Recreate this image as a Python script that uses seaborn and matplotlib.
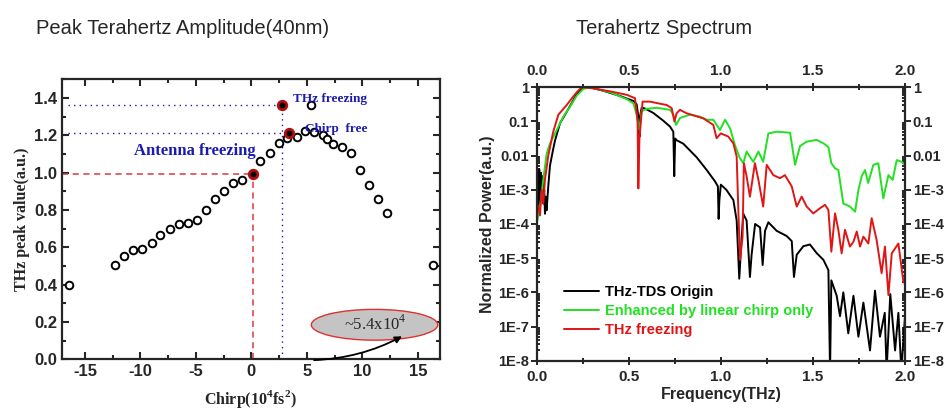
import matplotlib
matplotlib.use("Agg")
import numpy as np
import pandas as pd
import matplotlib.pyplot as plt
import seaborn as sns
from matplotlib.patches import Ellipse
from matplotlib.ticker import MultipleLocator, FixedLocator, LogLocator, NullFormatter

# ---- left panel: peak THz amplitude vs chirp (10^4 fs^2) ----
chirp_x = [-16.45, -12.3, -11.45, -10.65, -9.85, -9.0, -8.2, -7.35, -6.55, -5.75,
           -4.95, -4.1, -3.3, -2.45, -1.65, -0.85, 0.8, 1.65, 2.45, 3.25,
           4.1, 4.85, 5.35, 5.65, 6.45, 6.85, 7.35, 8.2, 8.95, 9.8,
           10.6, 11.45, 12.25, 16.35]
peak_y = [0.40, 0.505, 0.555, 0.585, 0.59, 0.625, 0.665, 0.70, 0.725, 0.73,
          0.745, 0.80, 0.86, 0.90, 0.945, 0.96, 1.06, 1.105, 1.16, 1.185,
          1.19, 1.225, 1.365, 1.22, 1.20, 1.18, 1.155, 1.135, 1.105, 1.015,
          0.935, 0.86, 0.785, 0.505]
# highlighted points: antenna freezing, THz freezing, chirp free
mark_x = [0.1, 2.78, 3.4]
mark_y = [0.995, 1.365, 1.21]

# ---- right panel: normalized power spectra, log10 values ----
origin_f = [0.0, 0.005, 0.009, 0.014, 0.018, 0.023, 0.027, 0.032, 0.036, 0.041,
            0.045, 0.05, 0.054, 0.063, 0.072, 0.09, 0.1, 0.127, 0.163, 0.199,
            0.217, 0.235, 0.253, 0.29, 0.36, 0.45, 0.525, 0.543, 0.553, 0.558,
            0.563, 0.57, 0.588, 0.633, 0.688, 0.724, 0.742, 0.747, 0.752, 0.76,
            0.796, 0.869, 0.923, 0.968, 0.984, 0.988, 0.992, 1.0, 1.03, 1.068,
            1.086, 1.1, 1.113, 1.122, 1.14, 1.158, 1.167, 1.186, 1.213, 1.227,
            1.24, 1.258, 1.303, 1.357, 1.385, 1.397, 1.412, 1.448, 1.484, 1.52,
            1.557, 1.584, 1.593, 1.6, 1.629, 1.647, 1.665, 1.692, 1.72, 1.747,
            1.774, 1.81, 1.837, 1.864, 1.89, 1.9, 1.92, 1.946, 1.964, 1.98,
            2.0]
origin_logp = [-3.3, -2.4, -3.5, -2.4, -3.4, -2.5, -3.3, -2.6, -3.4, -3.0,
               -3.7, -3.2, -3.6, -2.9, -2.3, -1.8, -1.55, -1.05, -0.72, -0.38,
               -0.2, -0.09, -0.02, 0.0, -0.1, -0.25, -0.4, -0.5, -0.9, -1.45,
               -0.8, -0.6, -0.62, -0.75, -0.98, -1.15, -1.3, -2.6, -1.5, -1.55,
               -1.65, -2.05, -2.42, -2.75, -2.9, -3.85, -3.3, -2.85, -3.0, -3.3,
               -3.9, -5.6, -4.4, -3.7, -3.9, -5.55, -4.9, -4.0, -4.1, -5.2,
               -4.2, -3.95, -4.2, -4.35, -4.5, -5.55, -4.9, -4.65, -4.6, -4.85,
               -5.05, -5.35, -8.3, -5.65, -6.1, -6.7, -6.0, -7.2, -6.1, -7.3,
               -6.3, -7.7, -5.95, -7.3, -6.6, -8.3, -6.05, -7.7, -6.6, -8.3,
               -6.7]

chirp_f = [0.0, 0.018, 0.036, 0.054, 0.072, 0.109, 0.145, 0.181, 0.217, 0.253,
           0.29, 0.4, 0.49, 0.525, 0.543, 0.557, 0.57, 0.597, 0.652, 0.724,
           0.742, 0.757, 0.778, 0.833, 0.887, 0.923, 0.959, 0.995, 1.023, 1.05,
           1.077, 1.104, 1.122, 1.14, 1.176, 1.204, 1.23, 1.258, 1.303, 1.376,
           1.403, 1.43, 1.466, 1.52, 1.557, 1.584, 1.6, 1.62, 1.638, 1.665,
           1.701, 1.729, 1.747, 1.765, 1.783, 1.8, 1.828, 1.855, 1.882, 1.91,
           1.933, 1.955, 1.982, 2.0]
chirp_logp = [-4.0, -3.5, -2.7, -1.95, -1.65, -1.25, -0.86, -0.57, -0.25, -0.05,
              0.0, -0.15, -0.35, -0.47, -0.8, -1.25, -0.7, -0.63, -0.6, -0.66,
              -0.8, -1.1, -0.9, -0.8, -0.86, -0.95, -0.95, -1.25, -0.95, -1.2,
              -1.7, -2.08, -2.22, -1.88, -2.18, -1.88, -2.18, -1.35, -1.3, -1.33,
              -2.27, -1.72, -1.59, -1.54, -1.64, -1.75, -2.22, -2.37, -2.42, -3.4,
              -3.49, -3.64, -3.0, -2.6, -2.42, -2.8, -2.27, -2.22, -3.25, -2.57,
              -2.71, -2.13, -2.18, -2.27]

freeze_f = [0.0, 0.009, 0.018, 0.027, 0.036, 0.045, 0.063, 0.09, 0.118, 0.163,
            0.19, 0.217, 0.244, 0.29, 0.4, 0.489, 0.534, 0.548, 0.552, 0.558,
            0.575, 0.615, 0.706, 0.733, 0.748, 0.76, 0.778, 0.814, 0.905, 0.959,
            0.977, 1.0, 1.04, 1.068, 1.086, 1.095, 1.104, 1.118, 1.125, 1.14,
            1.158, 1.185, 1.204, 1.23, 1.249, 1.285, 1.321, 1.348, 1.385, 1.412,
            1.439, 1.466, 1.502, 1.538, 1.566, 1.584, 1.6, 1.62, 1.638, 1.656,
            1.674, 1.701, 1.72, 1.738, 1.756, 1.774, 1.801, 1.819, 1.846, 1.873,
            1.891, 1.91, 1.928, 1.964, 1.991, 2.0]
freeze_logp = [-3.4, -3.5, -3.75, -3.0, -3.4, -2.7, -2.0, -1.3, -0.8, -0.52,
               -0.33, -0.15, 0.0, -0.02, -0.12, -0.22, -0.32, -1.0, -2.96, -1.5,
               -0.42, -0.42, -0.52, -0.61, -1.0, -0.76, -0.66, -0.76, -0.91, -1.1,
               -1.49, -1.35, -1.44, -1.64, -2.03, -3.59, -5.05, -4.37, -2.22, -2.61,
               -3.2, -2.22, -2.71, -3.49, -2.27, -2.57, -2.66, -2.57, -2.9, -3.49,
               -3.2, -3.49, -3.69, -3.54, -3.44, -3.59, -4.81, -3.69, -4.17, -4.86,
               -4.17, -4.66, -4.52, -4.22, -4.66, -4.37, -4.57, -3.83, -4.47, -5.44,
               -4.66, -6.08, -4.86, -4.57, -5.69, -5.74]

series_names = ["THz-TDS Origin", "Enhanced by linear chirp only", "THz freezing"]
series_colors = ["#000000", "#22e022", "#e01515"]
power_ticks = [1e-8, 1e-7, 1e-6, 1e-5, 1e-4, 1e-3, 1e-2, 1e-1, 1]
power_labels = ["1E-8", "1E-7", "1E-6", "1E-5", "1E-4", "1E-3", "0.01", "0.1", "1"]

sns.set_style("ticks")
plt.rcParams["font.family"] = ["Liberation Sans", "DejaVu Sans"]
plt.rcParams["axes.unicode_minus"] = False
plt.rcParams["mathtext.fontset"] = "custom"
plt.rcParams["mathtext.rm"] = "Liberation Serif"
plt.rcParams["mathtext.bf"] = "Liberation Serif:bold"

fig = plt.figure(figsize=(9.44, 4.09), dpi=100)
ax1 = fig.add_axes([0.0654, 0.1215, 0.4007, 0.6846])
ax2 = fig.add_axes([0.5685, 0.1181, 0.3902, 0.6685])

serif = "Liberation Serif"
blue = "#1a1ab0"

# ---------- left panel ----------
# guide lines through the highlighted points
ax1.plot([-17.1, mark_x[0]], [mark_y[0], mark_y[0]], ls=(0, (4, 3)), color="#d83a3a", lw=1.1)
ax1.plot([mark_x[0], mark_x[0]], [0, mark_y[0]], ls=(0, (4, 3)), color="#d83a3a", lw=1.1)
ax1.plot([-16.5, mark_x[1]], [mark_y[1], mark_y[1]], ls=(0, (1, 3)), color=blue, lw=1.0)
ax1.plot([-16.5, mark_x[2]], [mark_y[2], mark_y[2]], ls=(0, (1, 3)), color=blue, lw=1.0)
ax1.plot([mark_x[1], mark_x[1]], [0, mark_y[1]], ls=(0, (1, 3)), color=blue, lw=1.0)

sns.scatterplot(x=chirp_x, y=peak_y, ax=ax1, marker="o", s=30,
                facecolor="white", edgecolor="black", linewidth=1.4, zorder=3)
sns.scatterplot(x=mark_x, y=mark_y, ax=ax1, marker="o", s=38,
                facecolor="black", edgecolor="#b01010", linewidth=2.0, zorder=4)

ax1.set_xlim(-17.1, 17.0)
ax1.set_ylim(0, 1.5)
ax1.xaxis.set_major_locator(MultipleLocator(5))
ax1.xaxis.set_minor_locator(MultipleLocator(2.5))
ax1.yaxis.set_minor_locator(MultipleLocator(0.1))
ax1.set_yticks([0, 0.2, 0.4, 0.6, 0.8, 1.0, 1.2, 1.4])
ax1.tick_params(which="both", direction="in", top=True, right=True, width=1.5)
ax1.tick_params(which="major", length=5, labelsize=12)
ax1.tick_params(which="minor", length=3)
for lab in ax1.get_xticklabels() + ax1.get_yticklabels():
    lab.set_fontweight("bold")
for sp in ax1.spines.values():
    sp.set_linewidth(1.6)

ax1.set_ylabel("THz peak value(a.u.)", fontfamily=serif, fontweight="bold",
               fontsize=11.5, labelpad=3)
ax1.set_xlabel(r"Chirp(10$^{\mathbf{4}}$fs$^{\mathbf{2}}$)", fontfamily=serif,
               fontweight="bold", fontsize=11.5, labelpad=6)

ax1.text(3.75, 1.395, "THz freezing", color=blue, fontfamily=serif, fontweight="bold",
         fontsize=9.5, va="center")
ax1.text(4.85, 1.235, "Chirp  free", color=blue, fontfamily=serif, fontweight="bold",
         fontsize=9.5, va="center")
ax1.text(-10.6, 1.115, "Antenna freezing", color=blue, fontfamily=serif,
         fontweight="bold", fontsize=12, va="center")

ax1.add_patch(Ellipse((11.1, 0.185), 11.4, 0.165, facecolor="#c4c4c4",
                      edgecolor="#e03030", lw=1.0, zorder=2))
ax1.text(11.2, 0.19, r"~5.4x10$^{4}$", fontfamily=serif, fontsize=12,
         ha="center", va="center", zorder=3)
ax1.annotate("", xy=(13.8, 0.13), xytext=(5.4, -0.005),
             arrowprops=dict(arrowstyle="-|>", color="black", lw=1.3,
                             connectionstyle="arc3,rad=0.12", mutation_scale=10),
             annotation_clip=False, zorder=3)

# ---------- right panel ----------
for f, lp, name, col in zip([origin_f, chirp_f, freeze_f],
                            [origin_logp, chirp_logp, freeze_logp],
                            series_names, series_colors):
    df = pd.DataFrame({"freq": f, "power": 10.0 ** np.array(lp)})
    sns.lineplot(data=df, x="freq", y="power", ax=ax2, color=col, lw=1.4,
                 label=name, sort=False, estimator=None)

ax2.set_yscale("log")
ax2.set_xlim(0, 2.0)
ax2.set_ylim(1e-8, 1)
ax2.xaxis.set_major_locator(MultipleLocator(0.5))
ax2.xaxis.set_minor_locator(MultipleLocator(0.25))
ax2.xaxis.set_major_formatter(matplotlib.ticker.FormatStrFormatter("%.1f"))
ax2.yaxis.set_major_locator(FixedLocator(power_ticks))
ax2.set_yticklabels(power_labels)
ax2.yaxis.set_minor_locator(LogLocator(base=10, subs=np.arange(2, 10)))
ax2.yaxis.set_minor_formatter(NullFormatter())
ax2.tick_params(which="both", top=True, right=True, labeltop=True, labelright=True,
                width=1.4)
ax2.tick_params(axis="y", which="major", direction="out", length=4, labelsize=10.5, pad=1.5)
ax2.tick_params(axis="y", which="minor", direction="in", length=2)
ax2.tick_params(axis="x", which="major", direction="inout", length=6, labelsize=11)
ax2.tick_params(axis="x", which="minor", direction="inout", length=4)
for lab in ax2.get_xticklabels() + ax2.get_yticklabels():
    lab.set_fontweight("bold")
for sp in ax2.spines.values():
    sp.set_linewidth(1.6)

ax2.set_xlabel("Frequency(THz)", fontweight="bold", fontsize=11.5, labelpad=2)
ax2.set_ylabel("Normalized Power(a.u.)", fontweight="bold", fontsize=11.5, labelpad=2)

leg = ax2.legend(loc="lower left", bbox_to_anchor=(0.055, 0.06), frameon=False,
                 handlelength=2.4, handletextpad=0.4, labelspacing=0.35,
                 borderpad=0, prop={"weight": "bold", "size": 10.5},
                 labelcolor="linecolor")

# panel titles
fig.text(0.193, 0.931, "Peak Terahertz Amplitude(40nm)", fontsize=14.5,
         ha="center", va="center")
fig.text(0.703, 0.931, "Terahertz Spectrum", fontsize=14.5, ha="center", va="center")

fig.savefig("out.png", dpi=100)
